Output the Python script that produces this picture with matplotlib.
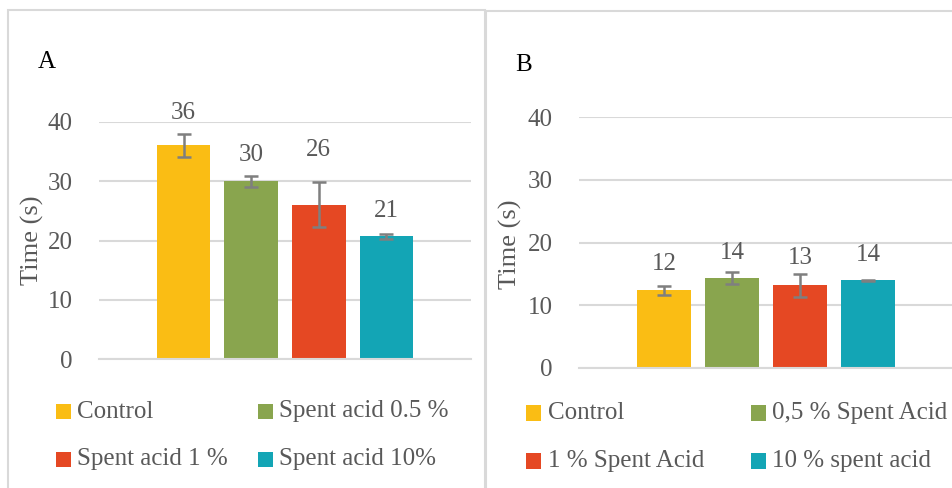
import matplotlib
matplotlib.use("Agg")
import matplotlib.pyplot as plt
from matplotlib.patches import Rectangle

plt.rcParams["font.family"] = ["Liberation Serif", "DejaVu Serif"]

# Panel A data
labels_a = ["Control", "Spent acid 0.5 %", "Spent acid 1 %", "Spent acid 10%"]
values_a = [36.1, 30.0, 26.0, 20.7]
errors_a = [1.95, 0.9, 3.8, 0.45]

# Panel B data
labels_b = ["Control", "0,5 % Spent Acid", "1 % Spent Acid", "10 % spent acid"]
values_b = [12.4, 14.35, 13.2, 14.0]
errors_b = [0.7, 0.95, 1.85, 0.1]

yticks = [0, 10, 20, 30, 40]
colors = ["#FABD14", "#89A54E", "#E54823", "#13A5B5"]

TXT = "#595959"
GRID = "#D9D9D9"
ERR = "#7F7F7F"
FS = 18

W, H = 952, 488
fig = plt.figure(figsize=(W / 100, H / 100), dpi=100)


def fx(px):
    return px / W


def fy(py):
    return 1 - py / H


# outer frames of the two panels
fig.patches.append(Rectangle((fx(8), fy(500)), fx(477), fy(10) - fy(500),
                             transform=fig.transFigure, fill=False,
                             edgecolor=GRID, lw=1.5))
fig.patches.append(Rectangle((fx(486), fy(500)), fx(480), fy(11) - fy(500),
                             transform=fig.transFigure, fill=False,
                             edgecolor=GRID, lw=1.5))


def panel(box, labels, values, errors, lifts, letter, letter_xy, ylabel_xy,
          legend_sq_x, legend_txt_x, legend_rows):
    left, right, top, bottom = box
    ax = fig.add_axes([fx(left), fy(bottom), fx(right - left), fy(top) - fy(bottom)])
    x = list(range(len(values)))
    ax.bar(x, values, width=54 / 68, color=colors, zorder=2)
    ax.errorbar(x, values, yerr=errors, fmt="none", ecolor=ERR, elinewidth=1.8,
                capsize=4.8, capthick=1.8, zorder=3)
    for xi, v, lift in zip(x, values, lifts):
        ax.annotate(f"{v:.0f}", (xi, v), xytext=(0, lift * 0.72),
                    textcoords="offset points", ha="center", va="center",
                    fontsize=FS, color=TXT, annotation_clip=False)
    ax.set_xlim(-1.25, 4.25)
    ax.set_ylim(0, 40)
    ax.set_yticks(yticks)
    ax.set_xticks([])
    ax.tick_params(axis="y", length=0, pad=19, labelsize=FS, labelcolor=TXT)
    ax.grid(axis="y", color=GRID, lw=1.5, zorder=0)
    ax.set_axisbelow(True)
    for s in ["top", "right", "left"]:
        ax.spines[s].set_visible(False)
    ax.spines["bottom"].set_color(GRID)
    ax.spines["bottom"].set_linewidth(1.5)
    fig.text(fx(ylabel_xy[0]), fy(ylabel_xy[1]), "Time (s)", fontsize=FS + 1,
             color=TXT, rotation=90, ha="center", va="center")
    fig.text(fx(letter_xy[0]), fy(letter_xy[1]), letter, fontsize=FS,
             color="black", ha="left", va="center")
    # legend, two columns
    for i, lab in enumerate(labels):
        r, c = divmod(i, 2)
        cy = legend_rows[r]
        fig.patches.append(Rectangle((fx(legend_sq_x[c]), fy(cy + 7.5)), fx(15),
                                     fy(cy - 7.5) - fy(cy + 7.5),
                                     transform=fig.transFigure,
                                     facecolor=colors[i], edgecolor="none"))
        fig.text(fx(legend_txt_x[c]), fy(cy), lab, fontsize=FS, color=TXT,
                 ha="left", va="center")
    return ax


ax_a = panel((99, 471, 122, 359), labels_a, values_a, errors_a,
             [32, 26, 55, 25], "A", (38, 62), (32, 240),
             (56, 258), (77, 279), (411.5, 459.5))
ax_b = panel((579, 953, 117, 368), labels_b, values_b, errors_b,
             [26, 25, 27, 25], "B", (515, 65), (510, 244),
             (526, 751), (548, 772), (413, 461))

fig.savefig("out.png", dpi=100)
